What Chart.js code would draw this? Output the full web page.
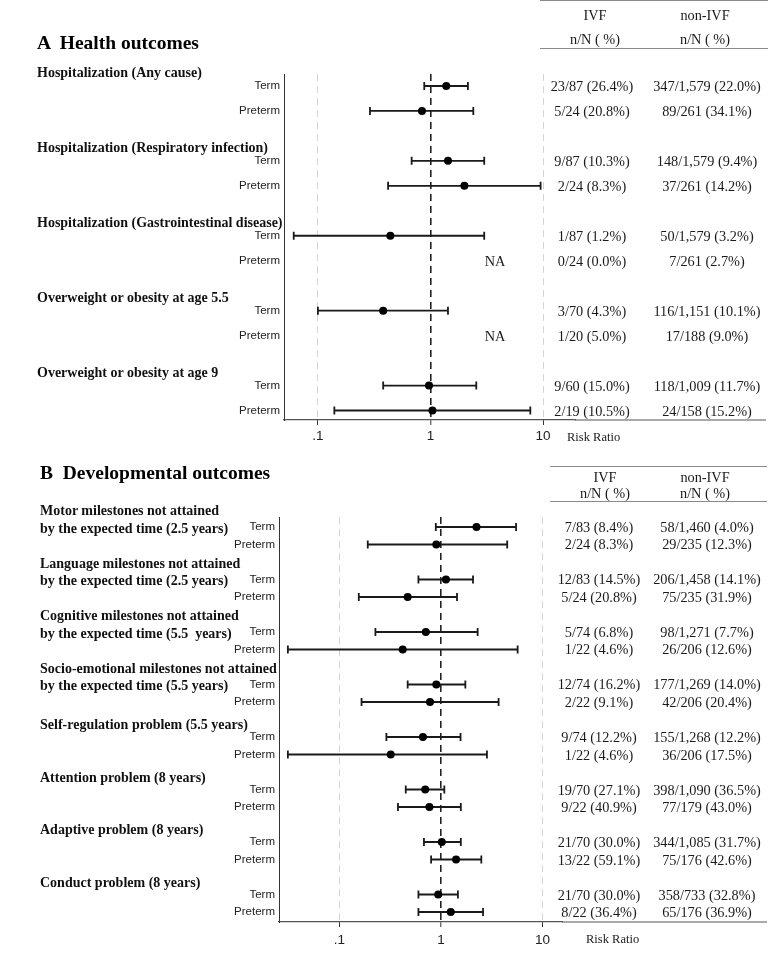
<!DOCTYPE html>
<html>
<head>
<meta charset="utf-8">
<title>IVF outcomes forest plot</title>
<script src="https://cdn.jsdelivr.net/npm/chart.js@4.4.1/dist/chart.umd.min.js"></script>
<style>
  body { margin: 0; background: #fff; }
  #page { position: relative; width: 780px; height: 953px; overflow: hidden;
          font-family: "Liberation Serif", "Times New Roman", serif; color: #1a1a1a; }
  canvas { position: absolute; left: 0; }
  .t { position: absolute; white-space: pre; line-height: 1; }
  .title { font-weight: bold; font-size: 19.5px; color: #000; transform: translateY(-50%); }
  .grp { font-weight: bold; font-size: 14px; color: #111; transform: translateY(-50%); }
  .cell { font-size: 14.3px; transform: translate(-50%, -50%); }
  .rr { font-size: 12.5px; transform: translateY(-50%); }
  .rule { position: absolute; height: 0; border-top: 1.5px solid #8a8a8a; }
</style>
</head>
<body>
<div id="page">
  <canvas id="chartA" width="780" height="460" style="top:0"></canvas>
  <canvas id="chartB" width="780" height="493" style="top:460px"></canvas>
</div>
<script>
// Axis ticks
const riskTicks = [0.1, 1, 10];
const riskTickLabels = ['.1', '1', '10'];
const rowLabels = ['Term', 'Preterm'];

// A  Health outcomes
const healthOutcomes = [
  ['Hospitalization (Any cause)'],
  ['Hospitalization (Respiratory infection)'],
  ['Hospitalization (Gastrointestinal disease)'],
  ['Overweight or obesity at age 5.5'],
  ['Overweight or obesity at age 9']
];
const healthTermRR = [1.38, 1.43, 0.44, 0.38, 0.97];
const healthTermLo = [0.88, 0.68, 0.061, 0.10, 0.38];
const healthTermHi = [2.15, 3.0, 3.0, 1.43, 2.55];
const healthPretermRR = [0.84, 2.0, null, null, 1.04];
const healthPretermLo = [0.29, 0.42, null, null, 0.14];
const healthPretermHi = [2.4, 9.5, null, null, 7.7];
const healthIvfTerm = ['23/87 (26.4%)', '9/87 (10.3%)', '1/87 (1.2%)', '3/70 (4.3%)', '9/60 (15.0%)'];
const healthIvfPreterm = ['5/24 (20.8%)', '2/24 (8.3%)', '0/24 (0.0%)', '1/20 (5.0%)', '2/19 (10.5%)'];
const healthNonIvfTerm = ['347/1,579 (22.0%)', '148/1,579 (9.4%)', '50/1,579 (3.2%)', '116/1,151 (10.1%)', '118/1,009 (11.7%)'];
const healthNonIvfPreterm = ['89/261 (34.1%)', '37/261 (14.2%)', '7/261 (2.7%)', '17/188 (9.0%)', '24/158 (15.2%)'];

// B  Developmental outcomes
const devOutcomes = [
  ['Motor milestones not attained', 'by the expected time (2.5 years)'],
  ['Language milestones not attained', 'by the expected time (2.5 years)'],
  ['Cognitive milestones not attained', 'by the expected time (5.5  years)'],
  ['Socio-emotional milestones not attained', 'by the expected time (5.5 years)'],
  ['Self-regulation problem (5.5 years)'],
  ['Attention problem (8 years)'],
  ['Adaptive problem (8 years)'],
  ['Conduct problem (8 years)']
];
const devTermRR = [2.24, 1.12, 0.71, 0.90, 0.665, 0.70, 1.02, 0.94];
const devTermLo = [0.89, 0.60, 0.226, 0.47, 0.29, 0.45, 0.68, 0.60];
const devTermHi = [5.5, 2.07, 2.3, 1.74, 1.56, 1.08, 1.57, 1.47];
const devPretermRR = [0.90, 0.47, 0.42, 0.78, 0.32, 0.77, 1.41, 1.25];
const devPretermLo = [0.19, 0.155, 0.031, 0.165, 0.031, 0.377, 0.80, 0.60];
const devPretermHi = [4.5, 1.44, 5.7, 3.7, 2.84, 1.57, 2.5, 2.6];
const devIvfTerm = ['7/83 (8.4%)', '12/83 (14.5%)', '5/74 (6.8%)', '12/74 (16.2%)', '9/74 (12.2%)', '19/70 (27.1%)', '21/70 (30.0%)', '21/70 (30.0%)'];
const devIvfPreterm = ['2/24 (8.3%)', '5/24 (20.8%)', '1/22 (4.6%)', '2/22 (9.1%)', '1/22 (4.6%)', '9/22 (40.9%)', '13/22 (59.1%)', '8/22 (36.4%)'];
const devNonIvfTerm = ['58/1,460 (4.0%)', '206/1,458 (14.1%)', '98/1,271 (7.7%)', '177/1,269 (14.0%)', '155/1,268 (12.2%)', '398/1,090 (36.5%)', '344/1,085 (31.7%)', '358/733 (32.8%)'];
const devNonIvfPreterm = ['29/235 (12.3%)', '75/235 (31.9%)', '26/206 (12.6%)', '42/206 (20.4%)', '36/206 (17.5%)', '77/179 (43.0%)', '75/176 (42.6%)', '65/176 (36.9%)'];

const page = document.getElementById('page');

function addText(cls, text, left, top) {
  const d = document.createElement('div');
  d.className = 't ' + cls;
  d.textContent = text;
  d.style.left = left + 'px';
  d.style.top = top + 'px';
  page.appendChild(d);
  return d;
}
function addRule(left, right, top) {
  const d = document.createElement('div');
  d.className = 'rule';
  d.style.left = left + 'px';
  d.style.width = (right - left) + 'px';
  d.style.top = top + 'px';
  page.appendChild(d);
}

// confidence intervals + bottom rule running under the table
const ciBars = {
  id: 'ciBars',
  beforeDatasetsDraw(chart) {
    const {ctx, scales: {x, y}} = chart;
    ctx.save();
    ctx.strokeStyle = '#1a1a1a';
    ctx.lineWidth = 1.8;
    chart.data.datasets[0].data.forEach(p => {
      const py = y.getPixelForValue(p.y);
      const x1 = x.getPixelForValue(p.lo), x2 = x.getPixelForValue(p.hi);
      ctx.beginPath();
      ctx.moveTo(x1, py); ctx.lineTo(x2, py);
      ctx.moveTo(x1, py - 4); ctx.lineTo(x1, py + 4);
      ctx.moveTo(x2, py - 4); ctx.lineTo(x2, py + 4);
      ctx.stroke();
    });
    ctx.restore();
  },
  afterDraw(chart, args, opts) {
    const {ctx, chartArea} = chart;
    ctx.save();
    ctx.strokeStyle = '#555';
    ctx.lineWidth = 1.2;
    ctx.beginPath();
    ctx.moveTo(chartArea.right, chartArea.bottom);
    ctx.lineTo(opts.end, chartArea.bottom);
    ctx.stroke();
    ctx.restore();
  }
};

function makePanel(id, p) {
  const pts = [];
  p.termRR.forEach((v, i) => pts.push({x: v, y: 3 * i, lo: p.termLo[i], hi: p.termHi[i]}));
  p.pretermRR.forEach((v, i) => {
    if (v != null) pts.push({x: v, y: 3 * i + 1, lo: p.pretermLo[i], hi: p.pretermHi[i]});
  });
  const rows = [];
  p.termRR.forEach((v, i) => rows.push(3 * i, 3 * i + 1));

  return new Chart(document.getElementById(id), {
    type: 'scatter',
    data: {
      datasets: [{
        data: pts,
        pointRadius: 4,
        pointBackgroundColor: '#000',
        pointBorderWidth: 0
      }]
    },
    options: {
      responsive: false,
      animation: false,
      layout: { padding: p.padding },
      plugins: { legend: { display: false }, tooltip: { enabled: false }, ciBars: { end: p.ruleEnd } },
      scales: {
        x: {
          type: 'logarithmic',
          min: p.xMin, max: p.xMax,
          afterBuildTicks: s => { s.ticks = riskTicks.map(v => ({value: v})); },
          afterFit: s => { s.height = p.xHeight; },
          ticks: {
            autoSkip: false, maxRotation: 0, padding: p.tickPad, color: '#222',
            font: { family: 'Liberation Sans', size: 13.5 },
            callback: (v, i) => riskTickLabels[i]
          },
          grid: {
            drawTicks: true, tickLength: 5, tickColor: '#333', tickWidth: 1,
            color: c => c.tick && c.tick.value === 1 ? '#222' : '#d4d4d4',
            lineWidth: c => c.tick && c.tick.value === 1 ? 1.6 : 1
          },
          border: { display: true, color: '#555', width: 1.2, dash: [7, 5] }
        },
        y: {
          type: 'linear',
          reverse: true,
          min: p.yMin, max: p.yMax,
          afterBuildTicks: s => { s.ticks = rows.map(v => ({value: v})); },
          afterFit: s => { s.width = p.yWidth; },
          ticks: {
            autoSkip: false, padding: 4, color: '#222',
            font: { family: 'Liberation Sans', size: 11.5 },
            callback: v => rowLabels[v % 3]
          },
          grid: { drawOnChartArea: false, drawTicks: false },
          border: { display: true, color: '#333', width: 1 }
        }
      }
    },
    plugins: [ciBars]
  });
}

const chartA = makePanel('chartA', {
  termRR: healthTermRR, termLo: healthTermLo, termHi: healthTermHi,
  pretermRR: healthPretermRR, pretermLo: healthPretermLo, pretermHi: healthPretermHi,
  xMin: 0.05, xMax: 19.2, yMin: -0.48, yMax: 13.38,
  padding: { left: 0, right: 205, top: 74, bottom: 0 },
  yWidth: 284, xHeight: 40, tickPad: 3, ruleEnd: 766
});
const chartB = makePanel('chartB', {
  termRR: devTermRR, termLo: devTermLo, termHi: devTermHi,
  pretermRR: devPretermRR, pretermLo: devPretermLo, pretermHi: devPretermHi,
  xMin: 0.02535, xMax: 15.6, yMin: -0.57, yMax: 22.57,
  padding: { left: 0, right: 218, top: 57, bottom: 0 },
  yWidth: 279, xHeight: 31, tickPad: 5, ruleEnd: 767
});

// text layers, placed on the chart's own row positions
function panelText(chart, top, cfg) {
  const y = chart.scales.y;
  cfg.groups.forEach((lines, i) => {
    const ty = top + y.getPixelForValue(3 * i);
    const py = top + y.getPixelForValue(3 * i + 1);
    if (lines.length === 2) {
      addText('grp', lines[0], cfg.grpX, ty - 15.5);
      addText('grp', lines[1], cfg.grpX, ty + 2);
    } else {
      addText('grp', lines[0], cfg.grpX, ty + cfg.grpOff);
    }
    addText('cell', cfg.ivfTerm[i], cfg.ivfX, ty);
    addText('cell', cfg.ivfPreterm[i], cfg.ivfX, py);
    addText('cell', cfg.nonTerm[i], cfg.nonX, ty);
    addText('cell', cfg.nonPreterm[i], cfg.nonX, py);
    if (cfg.pretermRR[i] == null) addText('cell', 'NA', cfg.naX, py);
  });
}

panelText(chartA, 0, {
  groups: healthOutcomes, grpX: 37, grpOff: -13,
  ivfTerm: healthIvfTerm, ivfPreterm: healthIvfPreterm,
  nonTerm: healthNonIvfTerm, nonPreterm: healthNonIvfPreterm,
  pretermRR: healthPretermRR, ivfX: 592, nonX: 707, naX: 495
});
panelText(chartB, 460, {
  groups: devOutcomes, grpX: 40, grpOff: -12,
  ivfTerm: devIvfTerm, ivfPreterm: devIvfPreterm,
  nonTerm: devNonIvfTerm, nonPreterm: devNonIvfPreterm,
  pretermRR: devPretermRR, ivfX: 599, nonX: 707, naX: 495
});

// titles and table headers
addText('title', 'A  Health outcomes', 37, 43);
addRule(540, 768, 0);
addText('cell', 'IVF', 595, 15);
addText('cell', 'non-IVF', 705, 15);
addText('cell', 'n/N ( %)', 595, 39);
addText('cell', 'n/N ( %)', 705, 39);
addRule(540, 768, 48);
addText('rr', 'Risk Ratio', 567, 437);

addText('title', 'B  Developmental outcomes', 40, 473);
addRule(550, 767, 466);
addText('cell', 'IVF', 605, 477);
addText('cell', 'non-IVF', 705, 477);
addText('cell', 'n/N ( %)', 605, 493);
addText('cell', 'n/N ( %)', 705, 493);
addRule(550, 767, 501);
addText('rr', 'Risk Ratio', 586, 939);
</script>
</body>
</html>
